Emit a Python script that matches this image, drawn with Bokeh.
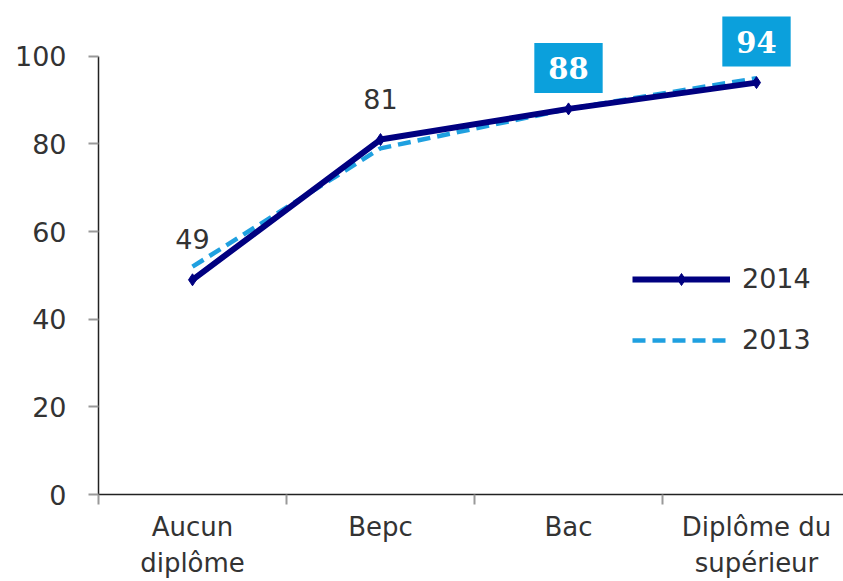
from bokeh.plotting import figure
from bokeh.models import Range1d, FixedTicker, Legend, LegendItem, ColumnDataSource
from bokeh.core.properties import value
from bokeh.embed import file_html
from bokeh.resources import INLINE

categories = ["Aucun\ndiplôme", "Bepc", "Bac", "Diplôme du\nsupérieur"]
values_2014 = [49, 81, 88, 94]
values_2013 = [52, 79, 88, 95]
label_texts = ["49", "81", "88", "94"]
label_boxed = [False, False, True, True]
y_ticks = [0, 20, 40, 60, 80, 100]

xs = list(range(len(categories)))
bounds_x = [i - 0.5 for i in range(len(categories) + 1)]

p = figure(width=843, height=581, output_backend="svg", toolbar_location=None,
           x_range=Range1d(-0.5, -0.5 + 745 / 188), y_range=Range1d(0, 110),
           min_border_left=98, min_border_right=0, min_border_top=12, min_border_bottom=87)
p.outline_line_color = None
p.grid.visible = False
p.background_fill_color = "white"

FONT = "DejaVu Sans"
TXT = "#333333"

# y axis
p.yaxis.ticker = FixedTicker(ticks=y_ticks)
p.yaxis.bounds = (0, 100)
p.yaxis.major_tick_out = 10
p.yaxis.major_tick_in = 0
p.yaxis.minor_tick_line_color = None
p.yaxis.major_tick_line_color = "#999999"
p.yaxis.major_tick_line_width = 2
p.yaxis.axis_line_color = "#222222"
p.yaxis.axis_line_width = 1.5
p.yaxis.major_label_text_font = FONT
p.yaxis.major_label_text_font_size = "27px"
p.yaxis.major_label_text_color = TXT
p.yaxis.major_label_standoff = 22

# x axis
p.xaxis.ticker = FixedTicker(ticks=xs, minor_ticks=bounds_x)
p.xaxis.bounds = (-0.5, len(categories) - 0.5)
p.xaxis.major_label_overrides = {i: c for i, c in zip(xs, categories)}
p.xaxis.major_tick_out = 0
p.xaxis.major_tick_in = 0
p.xaxis.minor_tick_out = 10
p.xaxis.minor_tick_in = 0
p.xaxis.minor_tick_line_color = "#999999"
p.xaxis.minor_tick_line_width = 2
p.xaxis.axis_line_color = "#222222"
p.xaxis.axis_line_width = 1.5
p.xaxis.major_label_text_font = FONT
p.xaxis.major_label_text_font_size = "26px"
p.xaxis.major_label_text_color = TXT
p.xaxis.major_label_standoff = 7

# series
l13 = p.line(xs, values_2013, line_color="#1FA0E0", line_width=4.5, line_dash="13 7")
l14 = p.line(xs, values_2014, line_color="#000080", line_width=6)
m14 = p.scatter(xs, values_2014, marker="diamond", size=12, fill_color="#000080", line_color="#000080")

# data labels
plain = ColumnDataSource(dict(
    x=[x for x, b in zip(xs, label_boxed) if not b],
    y=[v for v, b in zip(values_2014, label_boxed) if not b],
    t=[t for t, b in zip(label_texts, label_boxed) if not b]))
boxed = ColumnDataSource(dict(
    x=[x for x, b in zip(xs, label_boxed) if b],
    y=[v for v, b in zip(values_2014, label_boxed) if b],
    t=[t for t, b in zip(label_texts, label_boxed) if b]))

p.text(x="x", y="y", text="t", source=plain, y_offset=-41, text_align="center",
       text_baseline="middle", text_font=value(FONT), text_font_size="27px", text_color=TXT)
p.text(x="x", y="y", text="t", source=boxed, y_offset=-41, text_align="center",
       text_baseline="middle", text_font=value("DejaVu Serif"), text_font_style="bold",
       text_font_size="29px", text_color="white",
       background_fill_color="#0BA0DC", padding=(14, 14))

legend = Legend(items=[LegendItem(label="2014", renderers=[l14, m14]),
                       LegendItem(label="2013", renderers=[l13])],
                location=(534, 139), glyph_width=98, glyph_height=30, label_height=30,
                spacing=30, padding=0, margin=0, label_standoff=12,
                border_line_alpha=0, background_fill_alpha=0,
                label_text_font=FONT, label_text_font_size="27px", label_text_color=TXT)
p.add_layout(legend, "center")

open("out.html", "w").write(file_html(p, INLINE))
